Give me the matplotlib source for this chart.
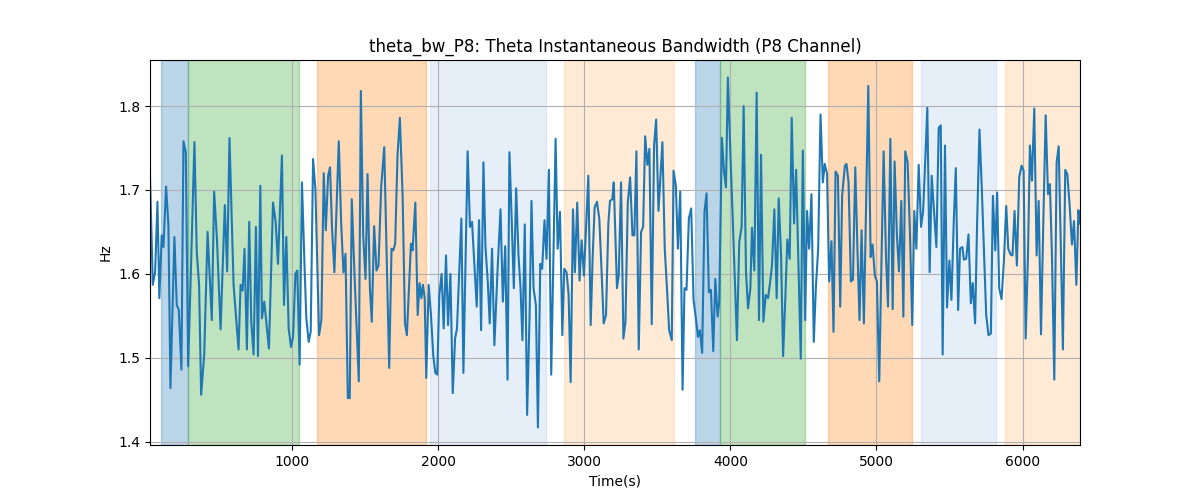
import matplotlib
matplotlib.use("Agg")
import matplotlib.pyplot as plt

time_s = [
    28, 47, 63, 79, 92, 108, 120, 138, 154, 168, 195, 211, 225, 243, 257, 273, 289, 307,
    332, 348, 364, 378, 399, 422, 451, 467, 486, 511, 540, 556, 572, 600, 634, 648, 662,
    675, 691, 707, 721, 737, 753, 767, 783, 794, 810,
    824, 842, 870, 888, 904, 931, 945, 961, 977, 993, 1007, 1023, 1036, 1052, 1068, 1087,
    1098, 1114, 1128, 1144, 1160, 1185, 1201, 1217, 1231, 1247, 1260, 1274, 1290, 1304,
    1320, 1336, 1352, 1366, 1382, 1395, 1409, 1427, 1457, 1471, 1487, 1503, 1517, 1533,
    1546, 1562, 1578, 1592, 1610,
    1631, 1665, 1681, 1693, 1706, 1722, 1738, 1757, 1773, 1786, 1814, 1825, 1844, 1860,
    1873, 1885, 1896, 1908, 1919, 1935, 1951, 1967, 1981, 1994, 2008, 2024, 2038, 2054,
    2068, 2084, 2100, 2116, 2129, 2159, 2173, 2202, 2218, 2232, 2264, 2280, 2294, 2310,
    2324, 2340, 2353, 2369, 2385, 2406,
    2427, 2443, 2459, 2475, 2488, 2504, 2518, 2534, 2550, 2564, 2577, 2593, 2609, 2626,
    2639, 2653, 2669, 2683, 2699, 2712, 2728, 2742, 2758, 2774, 2804, 2818, 2834, 2850,
    2863, 2879, 2893, 2907, 2923, 2936, 2952, 2968, 2982, 2998, 3028, 3044, 3058, 3071,
    3087, 3103, 3119, 3133, 3149, 3165, 3176, 3192, 3202,
    3224, 3236, 3252, 3268, 3282, 3298, 3314, 3330, 3343, 3357, 3373, 3389, 3403, 3417,
    3432, 3446, 3462, 3478, 3492, 3508, 3535, 3551, 3567, 3581, 3599, 3611, 3627, 3641,
    3657, 3673, 3686, 3700, 3716, 3732, 3748, 3764, 3778, 3791, 3807, 3823, 3837, 3853,
    3867, 3883, 3897, 3913, 3924, 3942, 3956, 3970, 3983,
    4002, 4018, 4045, 4061, 4077, 4091, 4107, 4121, 4137, 4148, 4164, 4180, 4196, 4210,
    4226, 4242, 4258, 4272, 4285, 4301, 4317, 4331, 4347, 4361, 4377, 4390, 4406, 4420,
    4436, 4450, 4466, 4482, 4496, 4512, 4525, 4539, 4555, 4571, 4585, 4601, 4617, 4633,
    4646, 4662, 4676, 4692, 4706, 4720, 4736, 4752, 4765, 4784,
    4795, 4809, 4825, 4839, 4855, 4871, 4884, 4898, 4914, 4930, 4944, 4960, 4973, 4989,
    5003, 5019, 5035, 5049, 5065, 5079, 5095, 5111, 5124, 5140, 5154, 5170, 5184, 5197,
    5213, 5229, 5245, 5259, 5273, 5289, 5305, 5319, 5335, 5348, 5364, 5378, 5394, 5410,
    5426, 5440, 5453, 5469, 5483, 5499, 5513, 5529, 5543, 5559, 5572, 5588,
    5598, 5614, 5630, 5646, 5659, 5675, 5689, 5705, 5721, 5751, 5767, 5783, 5797, 5813,
    5826, 5840, 5856, 5872, 5888, 5902, 5918, 5931, 5945, 5961, 5977, 5993, 6007, 6021,
    6037, 6050, 6064, 6080, 6096, 6110, 6126, 6142, 6158, 6174, 6187, 6201, 6217, 6233,
    6247, 6263, 6276, 6292, 6306, 6322, 6338, 6352, 6368, 6382, 6393,
]

bandwidth_hz = [
    1.717, 1.587, 1.602, 1.686, 1.571, 1.646, 1.632, 1.704, 1.658, 1.464, 1.644, 1.563,
    1.557, 1.486, 1.758, 1.745, 1.490, 1.598, 1.757, 1.626, 1.587, 1.456, 1.504, 1.650,
    1.545, 1.698, 1.642, 1.534, 1.682, 1.603, 1.762, 1.587, 1.510, 1.587, 1.580, 1.630,
    1.510, 1.662, 1.543, 1.504, 1.656, 1.502, 1.705, 1.547, 1.567,
    1.543, 1.511, 1.685, 1.662, 1.612, 1.741, 1.563, 1.644, 1.535, 1.513, 1.525, 1.600,
    1.604, 1.492, 1.709, 1.602, 1.547, 1.519, 1.531, 1.737, 1.701, 1.527, 1.545, 1.720,
    1.652, 1.717, 1.727, 1.654, 1.602, 1.674, 1.758, 1.662, 1.602, 1.624, 1.452, 1.452,
    1.689, 1.602, 1.472, 1.818, 1.646, 1.594, 1.719, 1.583, 1.543, 1.657, 1.604, 1.610,
    1.703,
    1.751, 1.488, 1.630, 1.628, 1.636, 1.741, 1.786, 1.693, 1.541, 1.527, 1.636, 1.628,
    1.685, 1.551, 1.589, 1.571, 1.587, 1.571, 1.476, 1.587, 1.551, 1.502, 1.482, 1.480,
    1.575, 1.600, 1.535, 1.622, 1.539, 1.600, 1.458, 1.523, 1.535, 1.666, 1.482, 1.746,
    1.656, 1.662, 1.561, 1.664, 1.533, 1.733, 1.632, 1.590, 1.541, 1.630, 1.515, 1.602,
    1.677, 1.567, 1.633, 1.474, 1.745, 1.662, 1.583, 1.702, 1.622, 1.583, 1.521, 1.659,
    1.432, 1.551, 1.687, 1.583, 1.563, 1.417, 1.612, 1.606, 1.664, 1.618, 1.724, 1.480,
    1.761, 1.630, 1.674, 1.527, 1.606, 1.602, 1.575, 1.471, 1.677, 1.602, 1.685, 1.592,
    1.640, 1.598, 1.717, 1.539, 1.622, 1.679, 1.686, 1.666, 1.602, 1.541, 1.551, 1.660,
    1.687, 1.689, 1.709,
    1.583, 1.598, 1.709, 1.523, 1.543, 1.685, 1.715, 1.646, 1.646, 1.746, 1.510, 1.650,
    1.656, 1.764, 1.730, 1.749, 1.540, 1.753, 1.784, 1.675, 1.757, 1.630, 1.580, 1.533,
    1.521, 1.723, 1.705, 1.630, 1.698, 1.462, 1.583, 1.581, 1.666, 1.678, 1.569, 1.547,
    1.525, 1.533, 1.506, 1.674, 1.696, 1.578, 1.581, 1.508, 1.594, 1.549, 1.567, 1.762,
    1.723, 1.703, 1.834,
    1.735, 1.657, 1.521, 1.638, 1.656, 1.800, 1.602, 1.559, 1.583, 1.655, 1.604, 1.816,
    1.545, 1.742, 1.543, 1.575, 1.571, 1.590, 1.610, 1.677, 1.571, 1.690, 1.622, 1.502,
    1.575, 1.641, 1.618, 1.786, 1.660, 1.724, 1.614, 1.499, 1.747, 1.545, 1.675, 1.630,
    1.695, 1.519, 1.583, 1.630, 1.790, 1.709, 1.731, 1.719, 1.591, 1.639, 1.531, 1.722,
    1.717, 1.561, 1.693, 1.729,
    1.731, 1.709, 1.591, 1.593, 1.727, 1.622, 1.545, 1.652, 1.541, 1.690, 1.824, 1.620,
    1.635, 1.598, 1.591, 1.472, 1.622, 1.746, 1.622, 1.561, 1.761, 1.558, 1.734, 1.646,
    1.603, 1.687, 1.549, 1.746, 1.733, 1.650, 1.539, 1.675, 1.630, 1.730, 1.656, 1.674,
    1.740, 1.798, 1.602, 1.717, 1.674, 1.632, 1.774, 1.777, 1.504, 1.753, 1.560, 1.616,
    1.569, 1.662, 1.726, 1.557, 1.630, 1.632,
    1.617, 1.618, 1.647, 1.565, 1.589, 1.541, 1.662, 1.772, 1.701, 1.551, 1.527, 1.529,
    1.693, 1.628, 1.697, 1.583, 1.570, 1.615, 1.681, 1.630, 1.623, 1.622, 1.675, 1.610,
    1.715, 1.729, 1.723, 1.523, 1.622, 1.753, 1.711, 1.797, 1.622, 1.687, 1.528, 1.662,
    1.789, 1.695, 1.707, 1.622, 1.474, 1.733, 1.752, 1.622, 1.510, 1.724, 1.719, 1.682,
    1.635, 1.663, 1.587, 1.676, 1.660,
]

span_starts = [105, 285, 1172, 1944, 2859, 3757, 3926, 4670, 5307, 5883]
span_ends = [285, 1046, 1917, 2735, 3613, 3926, 4510, 5246, 5820, 6393]
span_colors = ["#1f77b4", "#2ca02c", "#ff7f0e", "#aec7e8", "#ffbb78",
               "#1f77b4", "#2ca02c", "#ff7f0e", "#aec7e8", "#ffbb78"]

fig, ax = plt.subplots(figsize=(12, 5), dpi=100)
for s, e, c in zip(span_starts, span_ends, span_colors):
    ax.axvspan(s, e, color=c, alpha=0.3)
ax.plot(time_s, bandwidth_hz, color="#1f77b4", linewidth=1.5)
ax.set_xlim(time_s[0], time_s[-1])
ax.grid(True)
ax.set_title("theta_bw_P8: Theta Instantaneous Bandwidth (P8 Channel)")
ax.set_xlabel("Time(s)")
ax.set_ylabel("Hz")
fig.savefig("out.png", dpi=100)
